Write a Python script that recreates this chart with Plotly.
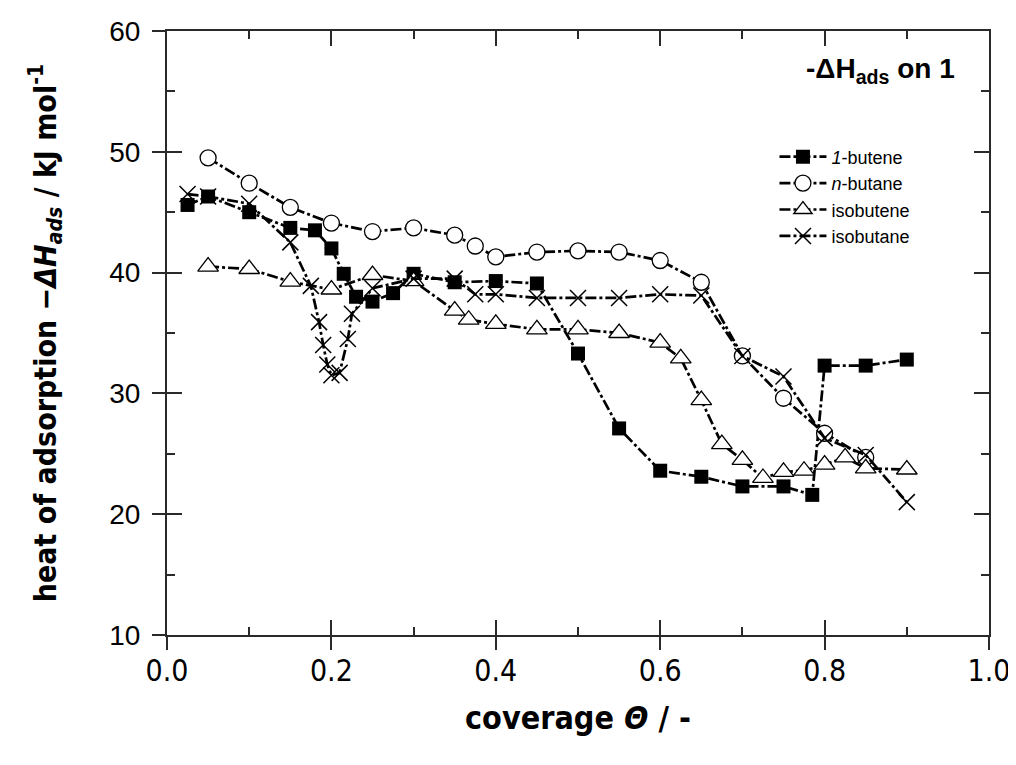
import plotly.graph_objects as go

# data
butene1_x = [0.025, 0.05, 0.10, 0.15, 0.18, 0.20, 0.215, 0.23, 0.25, 0.275, 0.30, 0.35, 0.40, 0.45,
             0.50, 0.55, 0.60, 0.65, 0.70, 0.75, 0.785, 0.80, 0.85, 0.90]
butene1_y = [45.6, 46.3, 45.0, 43.7, 43.5, 42.0, 39.9, 38.0, 37.6, 38.3, 39.9, 39.2, 39.3, 39.1,
             33.3, 27.1, 23.6, 23.1, 22.3, 22.3, 21.6, 32.3, 32.3, 32.8]

nbutane_x = [0.05, 0.10, 0.15, 0.20, 0.25, 0.30, 0.35, 0.375, 0.40, 0.45, 0.50, 0.55, 0.60,
             0.65, 0.70, 0.75, 0.80, 0.85]
nbutane_y = [49.5, 47.4, 45.4, 44.1, 43.4, 43.7, 43.1, 42.2, 41.3, 41.7, 41.8, 41.7, 41.0,
             39.2, 33.1, 29.6, 26.7, 24.7]

isobutene_x = [0.05, 0.10, 0.15, 0.20, 0.25, 0.30, 0.35, 0.367, 0.40, 0.45, 0.50, 0.55, 0.60,
               0.625, 0.65, 0.675, 0.70, 0.725, 0.75, 0.775, 0.80, 0.825, 0.85, 0.90]
isobutene_y = [40.5, 40.3, 39.25, 38.6, 39.8, 39.3, 36.85, 36.1, 35.75, 35.3, 35.3, 35.0, 34.2,
               32.9, 29.45, 25.8, 24.5, 23.0, 23.5, 23.6, 24.1, 24.7, 23.8, 23.7]

isobutane_x = [0.025, 0.05, 0.10, 0.15, 0.175, 0.185, 0.19, 0.195, 0.20, 0.21, 0.22, 0.225,
               0.25, 0.30, 0.35, 0.375, 0.40, 0.45, 0.50, 0.55, 0.60, 0.65, 0.70, 0.75, 0.80,
               0.85, 0.90]
isobutane_y = [46.5, 46.3, 45.7, 42.5, 38.9, 35.9, 34.0, 32.4, 31.5, 31.7, 34.5, 36.6,
               38.7, 39.5, 39.5, 38.2, 38.2, 37.9, 37.9, 37.9, 38.2, 38.1, 33.1, 31.4, 26.3,
               24.9, 21.0]

x_ticks = [0.0, 0.2, 0.4, 0.6, 0.8, 1.0]
x_ticklabels = ['0.0', '0.2', '0.4', '0.6', '0.8', '1.0']
y_ticks = [10, 20, 30, 40, 50, 60]

NARROW = 'DejaVu Sans Condensed, Liberation Sans Narrow, Liberation Sans, Arial'
REGULAR = 'Liberation Sans, Arial'
DASH = '11px,3px,3px,3px'

fig = go.Figure()

# series
fig.add_trace(go.Scatter(
    x=butene1_x, y=butene1_y, name='<i>1</i>-butene', mode='lines+markers',
    line=dict(color='black', width=2.7, dash=DASH),
    marker=dict(symbol='square', size=14, color='black'),
))
fig.add_trace(go.Scatter(
    x=nbutane_x, y=nbutane_y, name='<i>n</i>-butane', mode='lines+markers',
    line=dict(color='black', width=2.7, dash=DASH),
    marker=dict(symbol='circle', size=16, color='white', line=dict(color='black', width=1.3)),
))
fig.add_trace(go.Scatter(
    x=isobutene_x, y=isobutene_y, name='isobutene', mode='lines+markers',
    line=dict(color='black', width=2.7, dash=DASH),
    marker=dict(symbol='triangle-up', size=18, color='white', line=dict(color='black', width=1.3)),
))
fig.add_trace(go.Scatter(
    x=isobutane_x, y=isobutane_y, name='isobutane', mode='lines+markers',
    line=dict(color='black', width=2.7, dash=DASH),
    marker=dict(symbol='x-thin-open', size=16, color='black', line=dict(color='black', width=1.5)),
))

# empty trace so the outside tick axes are drawn
fig.add_trace(go.Scatter(x=[None], y=[None], xaxis='x2', yaxis='y2',
                         showlegend=False, hoverinfo='skip'))

axis_line = dict(showline=True, linecolor='#2a2a2a', linewidth=2, showgrid=False,
                 zeroline=False, automargin=False)

# the page body adds 8px, so the figure is sized to land the plot box where the reference has it
fig.update_layout(
    width=1008, height=749,
    paper_bgcolor='white', plot_bgcolor='white',
    margin=dict(l=159, r=27, t=23, b=122),
    xaxis=dict(
        range=[0, 1], tickvals=x_ticks, ticktext=x_ticklabels, ticklabeloverflow='allow',
        ticks='inside', ticklen=15, tickwidth=1.5, tickcolor='#2a2a2a', mirror='ticks',
        minor=dict(dtick=0.1, ticks='inside', ticklen=8, tickwidth=1.5, tickcolor='#2a2a2a'),
        tickfont=dict(family=NARROW, size=30, color='black'), ticklabelstandoff=8,
        title=dict(text='<b>coverage <i>Θ</i> / -</b>', standoff=20,
                   font=dict(family=NARROW, size=32, color='black')),
        **axis_line,
    ),
    xaxis2=dict(
        range=[0, 1], overlaying='x', anchor='y', side='bottom', tickvals=x_ticks,
        ticks='outside', ticklen=14, tickwidth=1.5, tickcolor='#2a2a2a',
        showticklabels=False, showline=False, showgrid=False, zeroline=False,
    ),
    yaxis=dict(
        range=[10, 60], tickvals=y_ticks, ticklabeloverflow='allow',
        ticks='inside', ticklen=15, tickwidth=1.5, tickcolor='#2a2a2a', mirror='ticks',
        minor=dict(dtick=5, ticks='inside', ticklen=8, tickwidth=1.5, tickcolor='#2a2a2a'),
        tickfont=dict(family=REGULAR, size=28, color='black'), ticklabelstandoff=19,
        title=dict(text='<b>heat of adsorption −<i>ΔH</i><sub><i>ads</i></sub> / kJ mol<sup>-1</sup></b>',
                   standoff=44, font=dict(family=NARROW, size=30, color='black')),
        **axis_line,
    ),
    yaxis2=dict(
        range=[10, 60], overlaying='y', anchor='x', side='left', tickvals=y_ticks,
        ticks='outside', ticklen=14, tickwidth=1.5, tickcolor='#2a2a2a',
        showticklabels=False, showline=False, showgrid=False, zeroline=False,
    ),
    legend=dict(
        x=0.739, y=0.822, xanchor='left', yanchor='top',
        bgcolor='rgba(0,0,0,0)', borderwidth=0,
        font=dict(family=REGULAR, size=18, color='black'),
        tracegroupgap=0, itemwidth=47,
    ),
    showlegend=True,
)

# legend heading
fig.add_annotation(
    xref='paper', yref='paper', x=0.775, y=0.967, xanchor='left', yanchor='top',
    text='<b>-ΔH<sub>ads</sub> on 1</b>', showarrow=False,
    font=dict(family=REGULAR, size=28, color='black'),
)

fig.write_html('out.html')
